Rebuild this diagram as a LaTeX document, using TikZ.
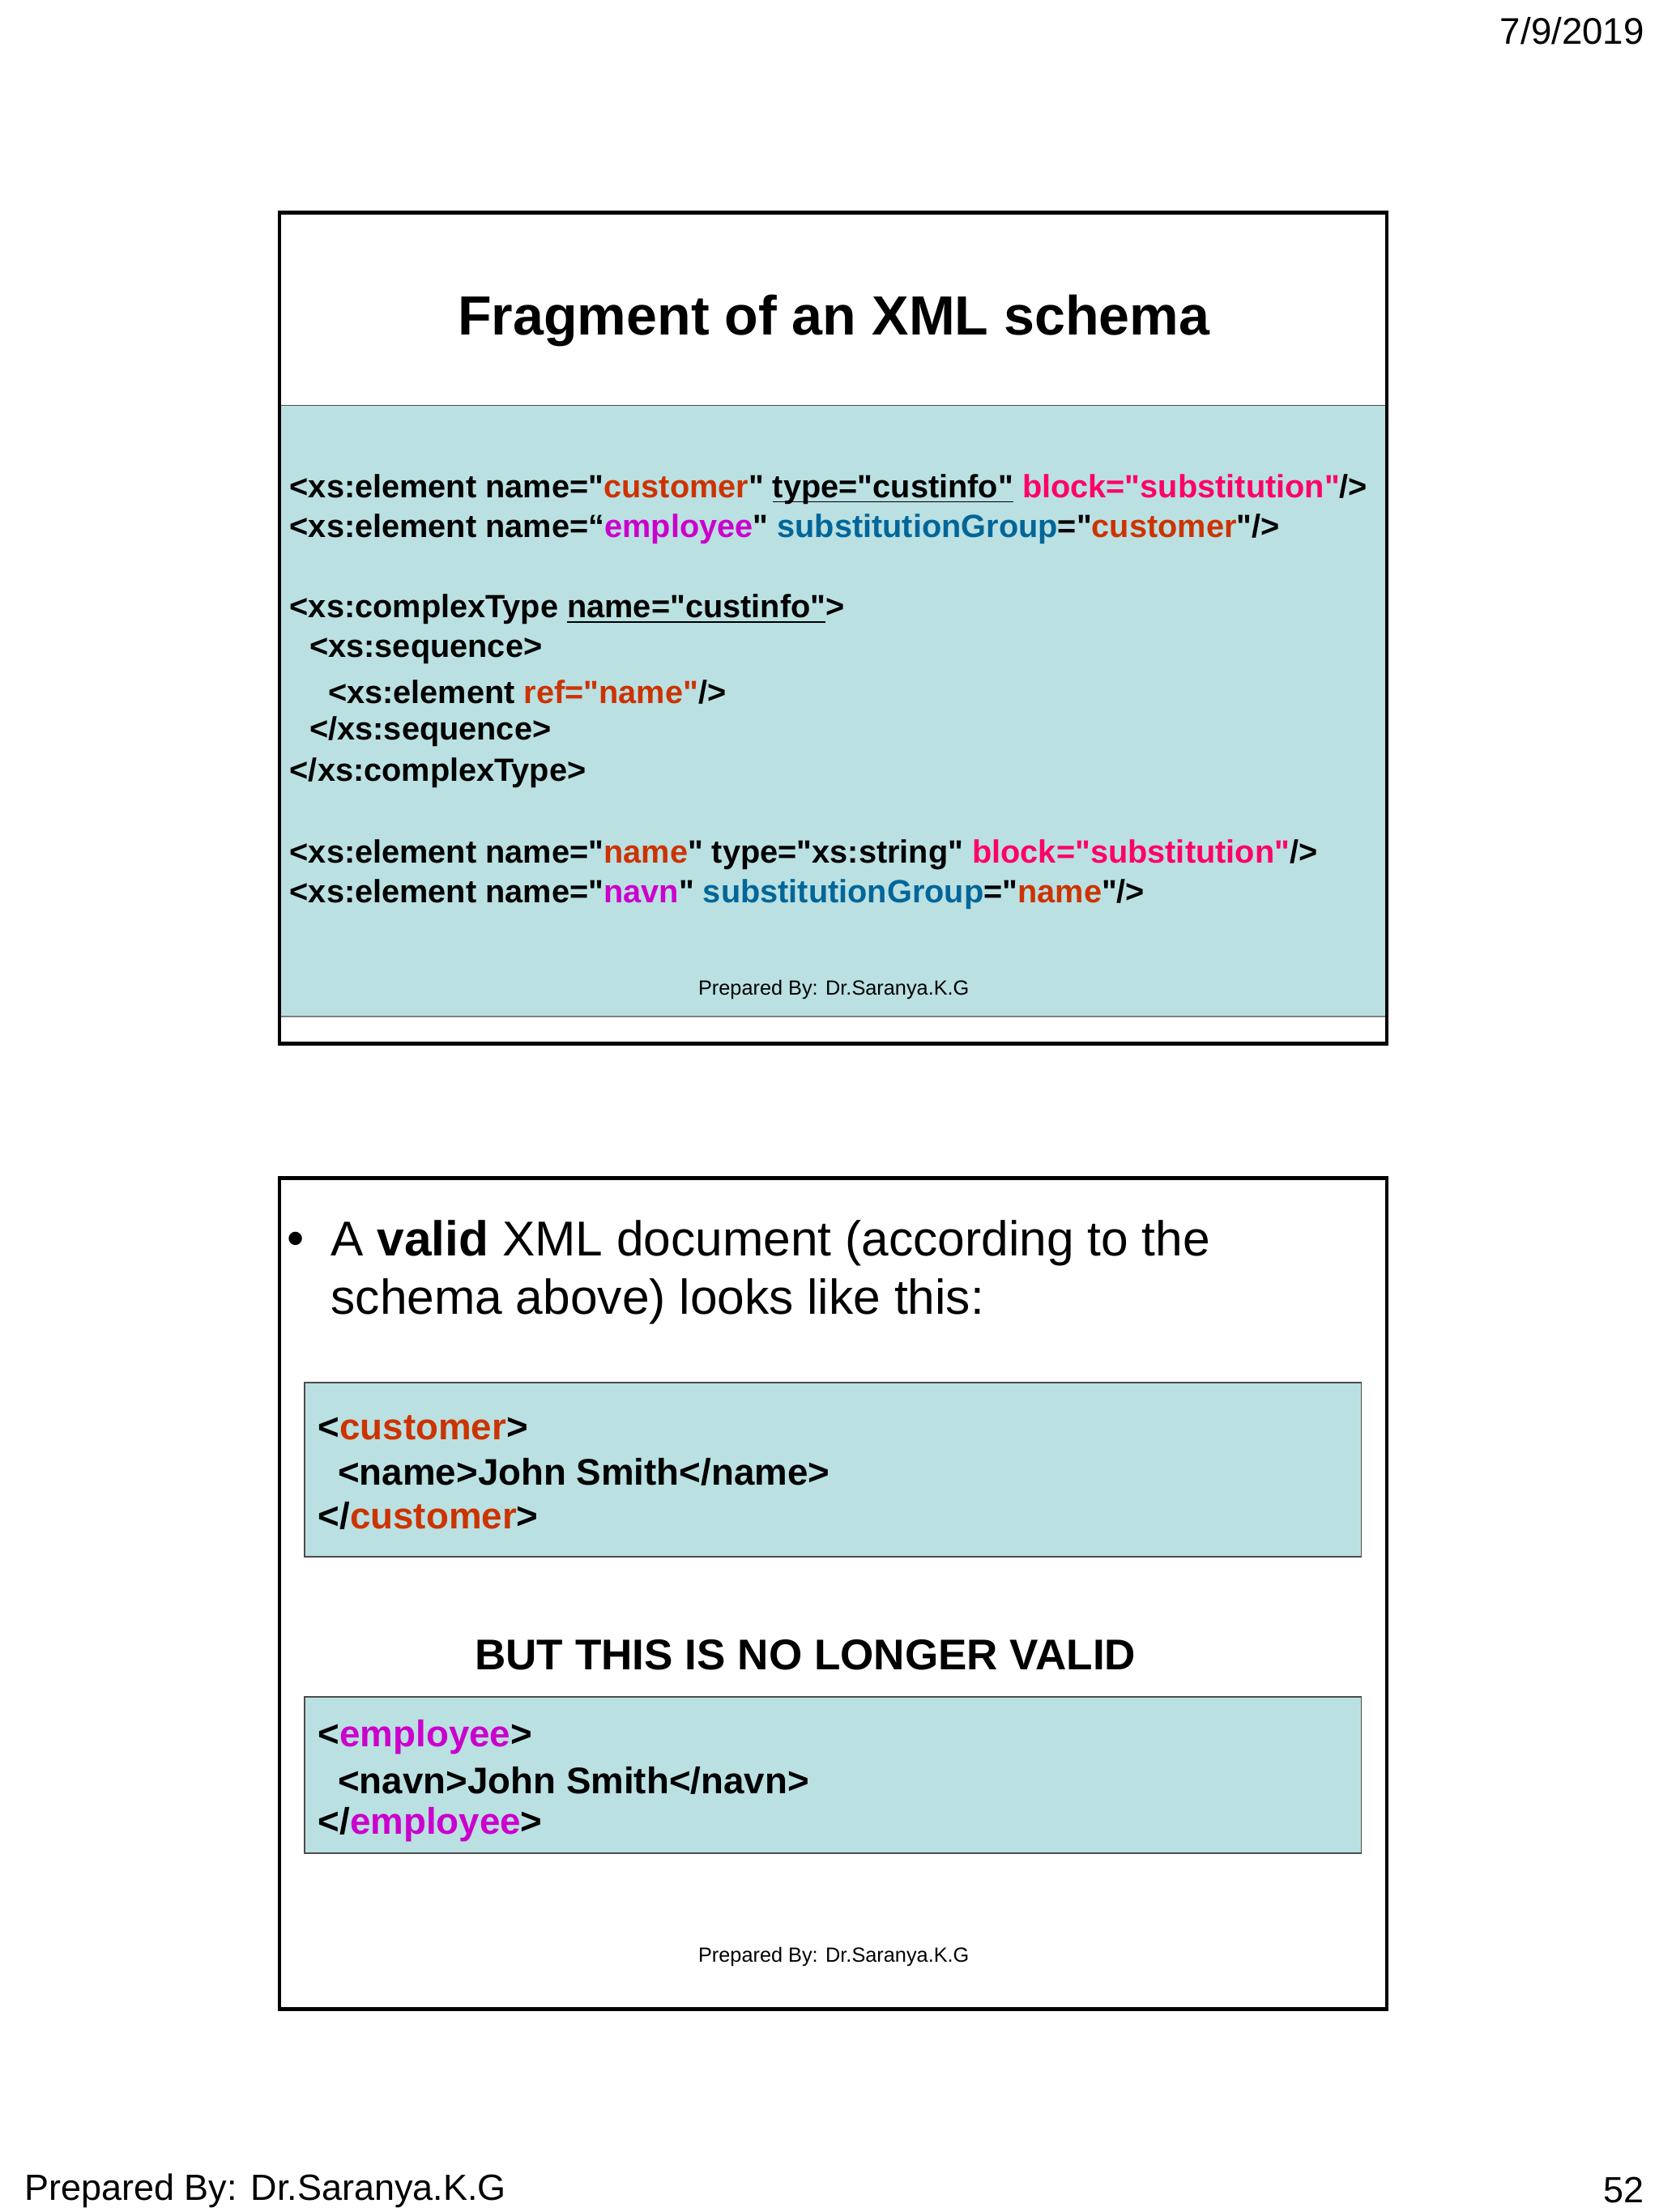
\documentclass[tikz,border=0pt]{standalone}
\usepackage{fontspec}
\setmainfont{Liberation Sans}[Ligatures=TeXOff]
\definecolor{teal1}{RGB}{186,224,226}
\definecolor{cOr}{RGB}{204,51,0}
\definecolor{cMa}{RGB}{204,0,204}
\definecolor{cBl}{RGB}{0,102,153}
\definecolor{cPk}{RGB}{255,0,102}
\newcommand{\Or}[1]{\textcolor{cOr}{#1}}
\newcommand{\Ma}[1]{\textcolor{cMa}{#1}}
\newcommand{\Bl}[1]{\textcolor{cBl}{#1}}
\newcommand{\Pk}[1]{\textcolor{cPk}{#1}}
\newcommand{\dq}{\symbol{34}}
\newcommand{\ulx}[1]{\underline{\smash{#1}}}
\begin{document}
\begin{tikzpicture}[x=0.017504cm,y=-0.017504cm,
  code/.style={anchor=west,inner sep=0pt,font=\fontsize{11.3}{13}\selectfont\bfseries},
  codeb/.style={anchor=west,inner sep=0pt,font=\fontsize{13}{15}\selectfont\bfseries},
  prep/.style={inner sep=0pt,font=\fontsize{7.2}{9}\selectfont},
  frame/.style={draw=black,line width=1.3pt}]
\useasboundingbox (0,0) rectangle (1170,1560.2);
\node[anchor=east,inner sep=0pt,font=\fontsize{13}{16}\selectfont] (date) at (1160,22) {7/9/2019};
% slide 1
\fill[teal1] (198,286) rectangle (978,717);
\draw[black!70,line width=0.4pt] (198,286) -- (978,286);
\draw[black!50,line width=0.4pt] (198,717) -- (978,717);
\draw[frame] (197,150) rectangle (978,736);
\node[inner sep=0pt,font=\fontsize{19.4}{23}\selectfont\bfseries] (title) at (588,226) {Fragment of an XML schema};
\node[code] (l1) at (204,345) {<xs:element name=\dq\Or{customer}\dq{} \ulx{type=\dq custinfo\dq} \Pk{block=\dq substitution\dq}/>};
\node[code] (l2) at (204,373) {<xs:element name=“\Ma{employee}\dq{} \Bl{substitutionGroup}=\dq\Or{customer}\dq/>};
\node[code] (l3) at (204,430) {<xs:complexType \ulx{name=\dq custinfo\dq}>};
\node[code] (l4) at (218,459) {<xs:sequence>};
\node[code] (l5) at (231,488) {<xs:element \Or{ref=\dq name\dq}/>};
\node[code] (l6) at (218,516) {</xs:sequence>};
\node[code] (l7) at (204,545) {</xs:complexType>};
\node[code] (l8) at (204,603) {<xs:element name=\dq\Or{name}\dq{} type=\dq xs:string\dq{} \Pk{block=\dq substitution\dq}/>};
\node[code] (l9) at (204,631) {<xs:element name=\dq\Ma{navn}\dq{} \Bl{substitutionGroup}=\dq\Or{name}\dq/>};
\node[prep] (p1) at (588,698) {Prepared By: Dr.Saranya.K.G};
% slide 2
\draw[frame] (197,831) rectangle (978,1417);
\node[anchor=west,inner sep=0pt,font=\fontsize{17.2}{21}\selectfont] (bul) at (202,877) {•};
\node[anchor=west,inner sep=0pt,font=\fontsize{17.2}{21}\selectfont] (b1) at (233,877) {A \textbf{valid} XML document (according to the};
\node[anchor=west,inner sep=0pt,font=\fontsize{17.2}{21}\selectfont] (b2) at (233,918) {schema above) looks like this:};
\draw[fill=teal1,draw=black!70,line width=0.5pt] (215,975) rectangle (960,1098);
\node[codeb] (c1) at (224,1007) {<\Or{customer}>};
\node[codeb] (c2) at (238,1038) {<name>John Smith</name>};
\node[codeb] (c3) at (224,1069) {</\Or{customer}>};
\node[inner sep=0pt,font=\fontsize{15.1}{18}\selectfont\bfseries] (but) at (568,1167) {BUT THIS IS NO LONGER VALID};
\draw[fill=teal1,draw=black!70,line width=0.5pt] (215,1197) rectangle (960,1307);
\node[codeb] (d1) at (224,1225) {<\Ma{employee}>};
\node[codeb] (d2) at (238,1256) {<navn>John Smith</navn>};
\node[codeb] (d3) at (224,1287) {</\Ma{employee}>};
\node[prep] (p2) at (588,1380) {Prepared By: Dr.Saranya.K.G};
% footer
\node[anchor=west,inner sep=0pt,font=\fontsize{12.8}{16}\selectfont] (foot) at (17,1545) {Prepared By: Dr.Saranya.K.G};
\node[anchor=east,inner sep=0pt,font=\fontsize{12.8}{16}\selectfont] (num) at (1160,1545) {52};
\end{tikzpicture}
\end{document}
